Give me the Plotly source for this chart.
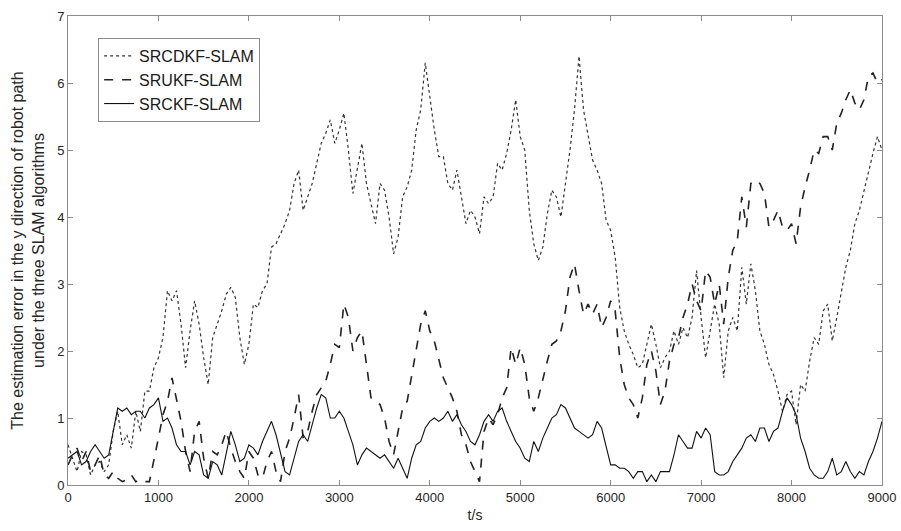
import plotly.graph_objects as go

# time axis (s), sampled every 50 s
t = list(range(0, 9001, 50))

srcdkf = [
    0.6, 0.4, 0.2, 0.5, 0.45, 0.15, 0.3, 0.35, 0.2, 0.3,
    0.8, 1.1, 0.6, 0.75, 0.55, 1.1, 0.8, 1.4, 1.4, 1.75,
    1.9, 2.2, 2.9, 2.75, 2.9, 2.4, 1.75, 2.3, 2.75, 2.4,
    1.9, 1.5, 2.2, 2.4, 2.6, 2.85, 2.95, 2.8, 2.2, 1.8,
    2.1, 2.7, 2.65, 2.9, 3.0, 3.55, 3.6, 3.75, 3.9, 4.1,
    4.5, 4.7, 4.1, 4.3, 4.5, 4.8, 5.1, 5.25, 5.45, 5.1,
    5.3, 5.55, 5.0, 4.35, 4.7, 5.1, 4.5, 4.2, 3.9, 4.5,
    4.4, 4.0, 3.45, 3.7, 4.3, 4.45, 4.7, 5.3, 5.6, 6.3,
    5.8, 5.3, 4.9, 4.9, 4.5, 4.4, 4.7, 4.3, 3.9, 4.1,
    4.0, 3.75, 4.3, 4.2, 4.3, 4.8, 4.7, 4.95, 5.3, 5.75,
    5.2, 5.0, 4.1, 3.6, 3.35, 3.55, 4.05, 4.4, 4.3, 4.0,
    4.5, 5.0, 5.6, 6.4, 5.6, 5.2, 4.85, 4.7, 4.5, 3.95,
    3.8, 3.4, 2.65, 2.3, 2.1, 1.95, 1.75, 1.8, 2.1, 2.4,
    2.1, 1.75, 1.9, 2.0, 2.3, 2.1, 2.35, 2.2, 2.5, 3.2,
    2.5, 1.9, 2.3, 2.7, 2.4, 1.6, 2.3, 2.5, 2.3, 3.25,
    2.7, 3.3, 2.9, 2.3, 2.1, 1.8, 1.65, 1.4, 1.1, 1.35,
    1.4, 0.9, 1.5, 1.4, 1.85, 2.2, 2.1, 2.6, 2.7, 2.15,
    2.5, 2.9, 3.25, 3.5, 3.9, 4.1, 4.4, 4.7, 4.95, 5.2,
    5.0,
]

srukf = [
    0.3, 0.45, 0.55, 0.35, 0.5, 0.2, 0.3, 0.45, 0.15, 0.1,
    0.2, 0.1, 0.05, 0.08, 0.15, 0.05, 0.08, 0.05, 0.05, 0.35,
    0.7, 1.05, 1.25, 1.6, 1.3, 0.95, 0.5, 0.2, 0.8, 0.95,
    0.4, 0.1, 0.5, 0.45, 0.6, 0.8, 0.55, 0.35, 0.2, 0.1,
    0.5, 0.4, 0.15, 0.1, 0.35, 0.5, 0.2, 0.05, 0.5, 0.7,
    1.0, 1.35, 0.7, 0.8, 1.1, 1.35, 1.45, 1.55, 1.8, 2.1,
    2.05, 2.7, 2.5, 2.0, 2.2, 2.3, 1.8, 1.3, 1.25, 1.2,
    1.0, 0.65, 0.45, 0.8, 1.15, 1.25, 1.65, 2.0, 2.4, 2.6,
    2.3, 2.15, 1.85, 1.6, 1.45, 1.3, 1.1, 0.75, 0.6, 0.35,
    0.2, 0.05, 0.8, 1.0, 0.9, 1.05, 1.3, 1.45, 2.05, 1.8,
    2.05, 1.8, 1.3, 1.1, 1.3, 1.6, 1.85, 2.1, 2.15, 2.3,
    2.6, 3.1, 3.3, 2.9, 2.55, 2.7, 2.55, 2.7, 2.35, 2.5,
    2.75, 2.6, 1.9, 1.5, 1.3, 1.2, 1.0, 1.3, 1.8, 2.0,
    1.7, 1.2, 1.4, 1.85, 2.1, 2.2, 2.5, 2.7, 3.0, 2.75,
    2.6, 3.2, 3.1, 2.7, 3.0, 2.4, 3.1, 3.5, 3.65, 4.3,
    3.85, 4.5, 4.55, 4.5, 4.35, 3.85, 3.95, 4.1, 3.85, 3.8,
    3.9, 3.6, 4.15, 4.45, 4.7, 5.0, 4.95, 5.2, 5.2, 5.0,
    5.4, 5.55, 5.75, 5.9, 5.7, 5.6, 5.75, 6.1, 6.15, 6.0,
    6.05,
]

srckf = [
    0.4, 0.45, 0.5, 0.3, 0.35, 0.5, 0.6, 0.5, 0.4, 0.45,
    0.8, 1.15, 1.1, 1.15, 1.05, 1.1, 1.1, 1.0, 1.15, 1.2,
    1.3, 0.95, 1.0, 0.85, 0.6, 0.5, 0.5, 0.3, 0.5, 0.45,
    0.15, 0.1, 0.35, 0.3, 0.15, 0.45, 0.8, 0.6, 0.35, 0.4,
    0.6, 0.55, 0.45, 0.65, 0.8, 0.95, 0.75, 0.45, 0.2, 0.15,
    0.4, 0.65, 0.75, 0.65, 0.9, 1.15, 1.35, 1.3, 1.0, 1.0,
    1.1, 1.0, 0.8, 0.6, 0.3, 0.45, 0.55, 0.5, 0.45, 0.4,
    0.45, 0.35, 0.25, 0.4, 0.25, 0.1, 0.4, 0.6, 0.65, 0.85,
    0.95, 1.0, 0.95, 1.0, 1.1, 0.95, 1.05, 0.9, 0.8, 0.65,
    0.6, 0.75, 0.95, 1.05, 0.95, 1.1, 1.15, 0.95, 0.8, 0.65,
    0.55, 0.4, 0.35, 0.65, 0.5, 0.7, 0.85, 1.0, 1.05, 1.2,
    1.15, 1.0, 0.85, 0.8, 0.75, 0.7, 0.75, 0.95, 0.85, 0.55,
    0.3, 0.3, 0.25, 0.25, 0.2, 0.1, 0.2, 0.2, 0.05, 0.15,
    0.05, 0.2, 0.2, 0.2, 0.45, 0.75, 0.65, 0.55, 0.55, 0.8,
    0.7, 0.85, 0.75, 0.2, 0.15, 0.15, 0.2, 0.35, 0.45, 0.55,
    0.7, 0.75, 0.65, 0.85, 0.85, 0.65, 0.8, 0.85, 1.1, 1.3,
    1.2, 1.05, 0.7, 0.5, 0.25, 0.15, 0.1, 0.1, 0.2, 0.4,
    0.15, 0.2, 0.35, 0.2, 0.1, 0.2, 0.15, 0.35, 0.5, 0.7,
    0.95,
]

x_ticks = [0, 1000, 2000, 3000, 4000, 5000, 6000, 7000, 8000, 9000]
y_ticks = [0, 1, 2, 3, 4, 5, 6, 7]

fig = go.Figure()
fig.add_trace(go.Scatter(x=t, y=srcdkf, mode="lines", name="SRCDKF-SLAM",
                         line=dict(color="#333333", width=1.2, dash="dot")))
fig.add_trace(go.Scatter(x=t, y=srukf, mode="lines", name="SRUKF-SLAM",
                         line=dict(color="#222222", width=1.6, dash="dash")))
fig.add_trace(go.Scatter(x=t, y=srckf, mode="lines", name="SRCKF-SLAM",
                         line=dict(color="#111111", width=1.1)))

axis_common = dict(showline=True, linecolor="#8c8c8c", linewidth=1, mirror="ticks",
                   ticks="inside", ticklen=5, tickcolor="#8c8c8c", showgrid=False,
                   zeroline=False, automargin=False,
                   tickfont=dict(size=13, color="#262626"))

fig.update_layout(
    width=901, height=531,
    margin=dict(l=68, r=19, t=16, b=46),
    paper_bgcolor="white", plot_bgcolor="white",
    font=dict(family="Liberation Sans, Arial, sans-serif", size=13, color="#262626"),
    xaxis=dict(range=[0, 9000], tickvals=x_ticks,
               title=dict(text="t/s", font=dict(size=14), standoff=6), **axis_common),
    yaxis=dict(range=[0, 7], tickvals=y_ticks,
               title=dict(text="The estimation error in the y direction of robot path<br>under the three SLAM algorithms",
                          font=dict(size=16), standoff=8), **axis_common),
    legend=dict(x=0.037, y=0.953, xanchor="left", yanchor="top",
                bordercolor="#8c8c8c", borderwidth=1, bgcolor="white",
                font=dict(size=16, color="#1a1a1a"), tracegroupgap=0),
    showlegend=True,
)

fig.write_html("out.html")
